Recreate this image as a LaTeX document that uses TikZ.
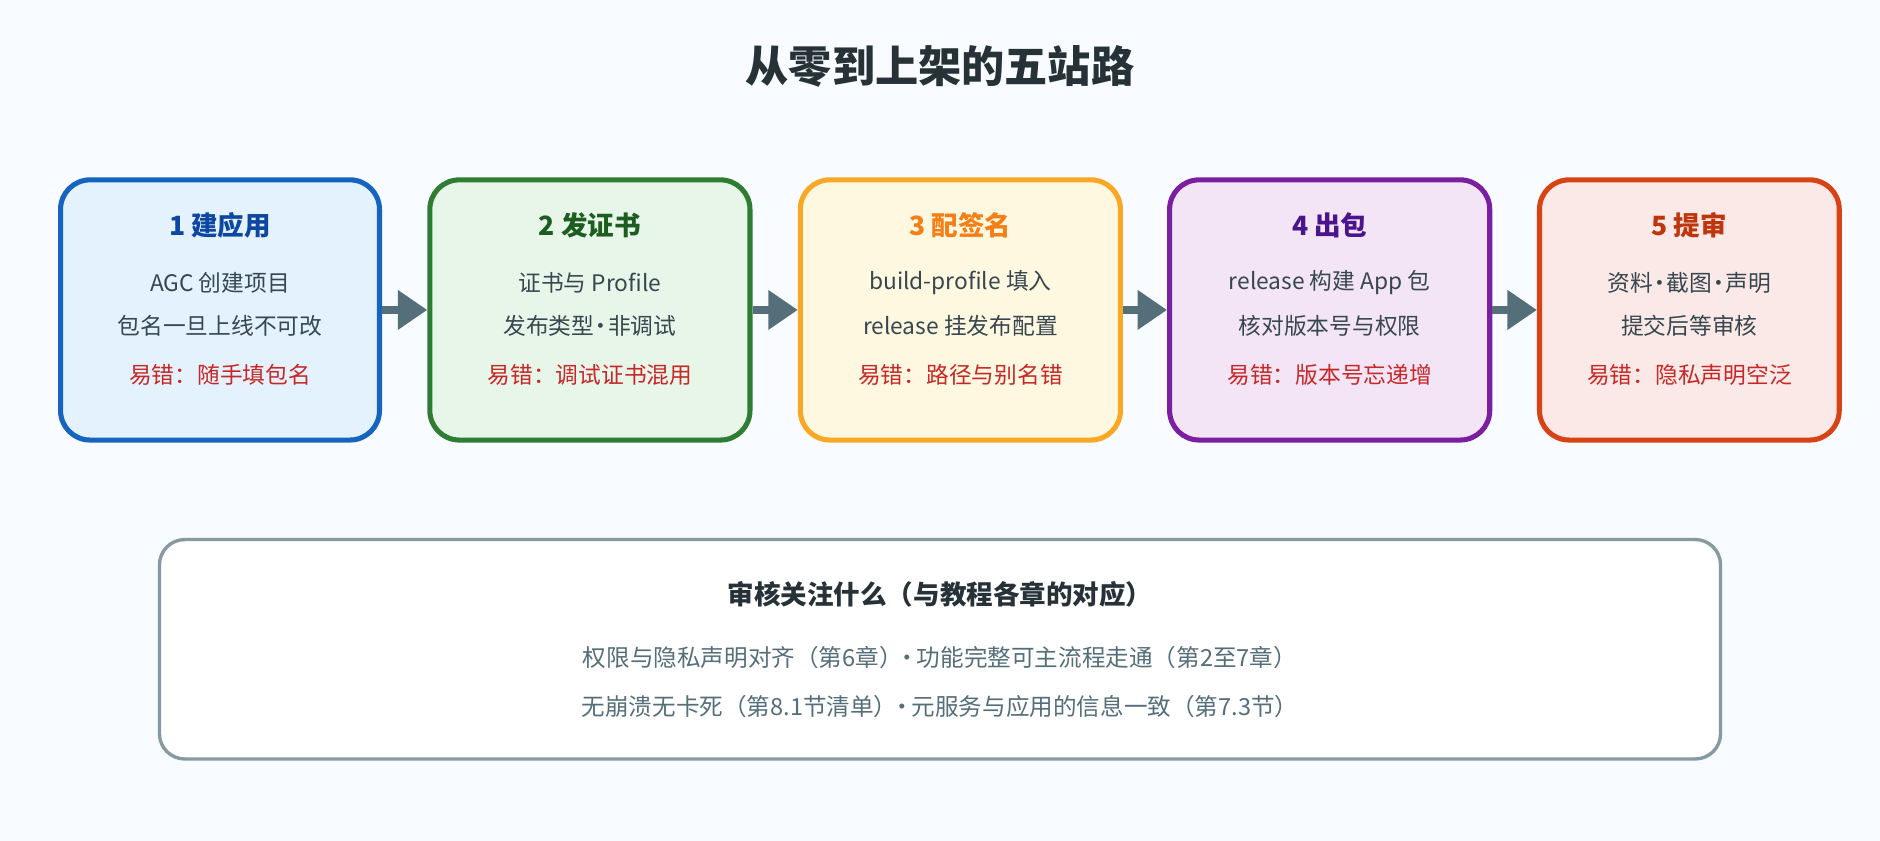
\documentclass[tikz,border=0pt]{standalone}
\usepackage{fontspec}
\setmainfont{Noto Sans CJK SC}
\usetikzlibrary{arrows.meta}
\definecolor{bg}{HTML}{F8FBFF}
\definecolor{ink}{HTML}{263238}
\definecolor{body}{HTML}{37474F}
\definecolor{err}{HTML}{C62828}
\definecolor{arr}{HTML}{546E7A}
\begin{document}
\begin{tikzpicture}[x=0.02cm,y=-0.02cm,
 box/.style={draw,line width=2.4pt,rounded corners=14pt,minimum height=217*0.02cm,inner sep=0pt},
 ttl/.style={font=\fontsize{12.6}{15}\selectfont\bfseries},
 bd/.style={font=\fontsize{10.8}{13}\selectfont,text=body},
 er/.style={font=\fontsize{10.8}{13}\selectfont,text=err},
 ar/.style={draw=arr,line width=4pt,-{Triangle[length=14pt,width=18pt]}}]
\useasboundingbox[fill=bg] (0,0) rectangle (1568,701);
\node[font=\fontsize{20.5}{24}\selectfont\bfseries,text=ink] (T) at (784,55) {从零到上架的五站路};
\def\stage#1#2#3#4#5#6#7#8#9{%
 \definecolor{f#1}{HTML}{#4}\definecolor{d#1}{HTML}{#5}\definecolor{t#1}{HTML}{#6}%
 \node[box,fill=f#1,draw=d#1,minimum width=#3*0.02cm] (b#1) at (#2,258.5) {};
 \node[ttl,text=t#1] (h#1) at (#2,188) {#7};
 \node[bd] (l#1) at (#2,236) {#8};
 \node[bd] (m#1) at (#2,272) {#9};}
\stage{1}{183.5}{266}{E3F2FD}{1565C0}{0D47A1}{1 建应用}{AGC 创建项目}{包名一旦上线不可改}
\stage{2}{492}{267}{E8F5E9}{2E7D32}{1B5E20}{2 发证书}{证书与 Profile}{发布类型{\kern-0.2em}·{\kern-0.2em}非调试}
\stage{3}{801}{267}{FFF8E1}{F9A825}{F57F17}{3 配签名}{build-profile 填入}{release 挂发布配置}
\stage{4}{1109}{267}{F3E5F5}{7B1FA2}{4A148C}{4 出包}{release 构建 App 包}{核对版本号与权限}
\stage{5}{1409}{250}{FBE9E7}{D84315}{BF360C}{5 提审}{资料{\kern-0.2em}·{\kern-0.2em}截图{\kern-0.2em}·{\kern-0.2em}声明}{提交后等审核}
\node[er] (e1) at (183.5,313) {易错：随手填包名};
\node[er] (e2) at (492,313) {易错：调试证书混用};
\node[er] (e3) at (801,313) {易错：路径与别名错};
\node[er] (e4) at (1109,313) {易错：版本号忘递增};
\node[er] (e5) at (1409,313) {易错：隐私声明空泛};
\foreach \a/\b in {1/2,2/3,3/4,4/5} \draw[ar] (b\a.east) -- (b\b.west);
\node[draw=arr!70,line width=1.6pt,fill=white,rounded corners=12pt,minimum width=1302*0.02cm,minimum height=183*0.02cm] (R) at (784,541.5) {};
\node[ttl,text=ink] (rt) at (784,496) {审核关注什么（与教程各章的对应）};
\node[font=\fontsize{11.2}{13}\selectfont,text=arr] (r1) at (784,548) {权限与隐私声明对齐（第6章）{\kern-0.3em}·{\kern-0.1em}功能完整可主流程走通（第2至7章）};
\node[font=\fontsize{11.2}{13}\selectfont,text=arr] (r2) at (784,589) {无崩溃无卡死（第8.1节清单）{\kern-0.3em}·{\kern-0.1em}元服务与应用的信息一致（第7.3节）};
\end{tikzpicture}
\end{document}
